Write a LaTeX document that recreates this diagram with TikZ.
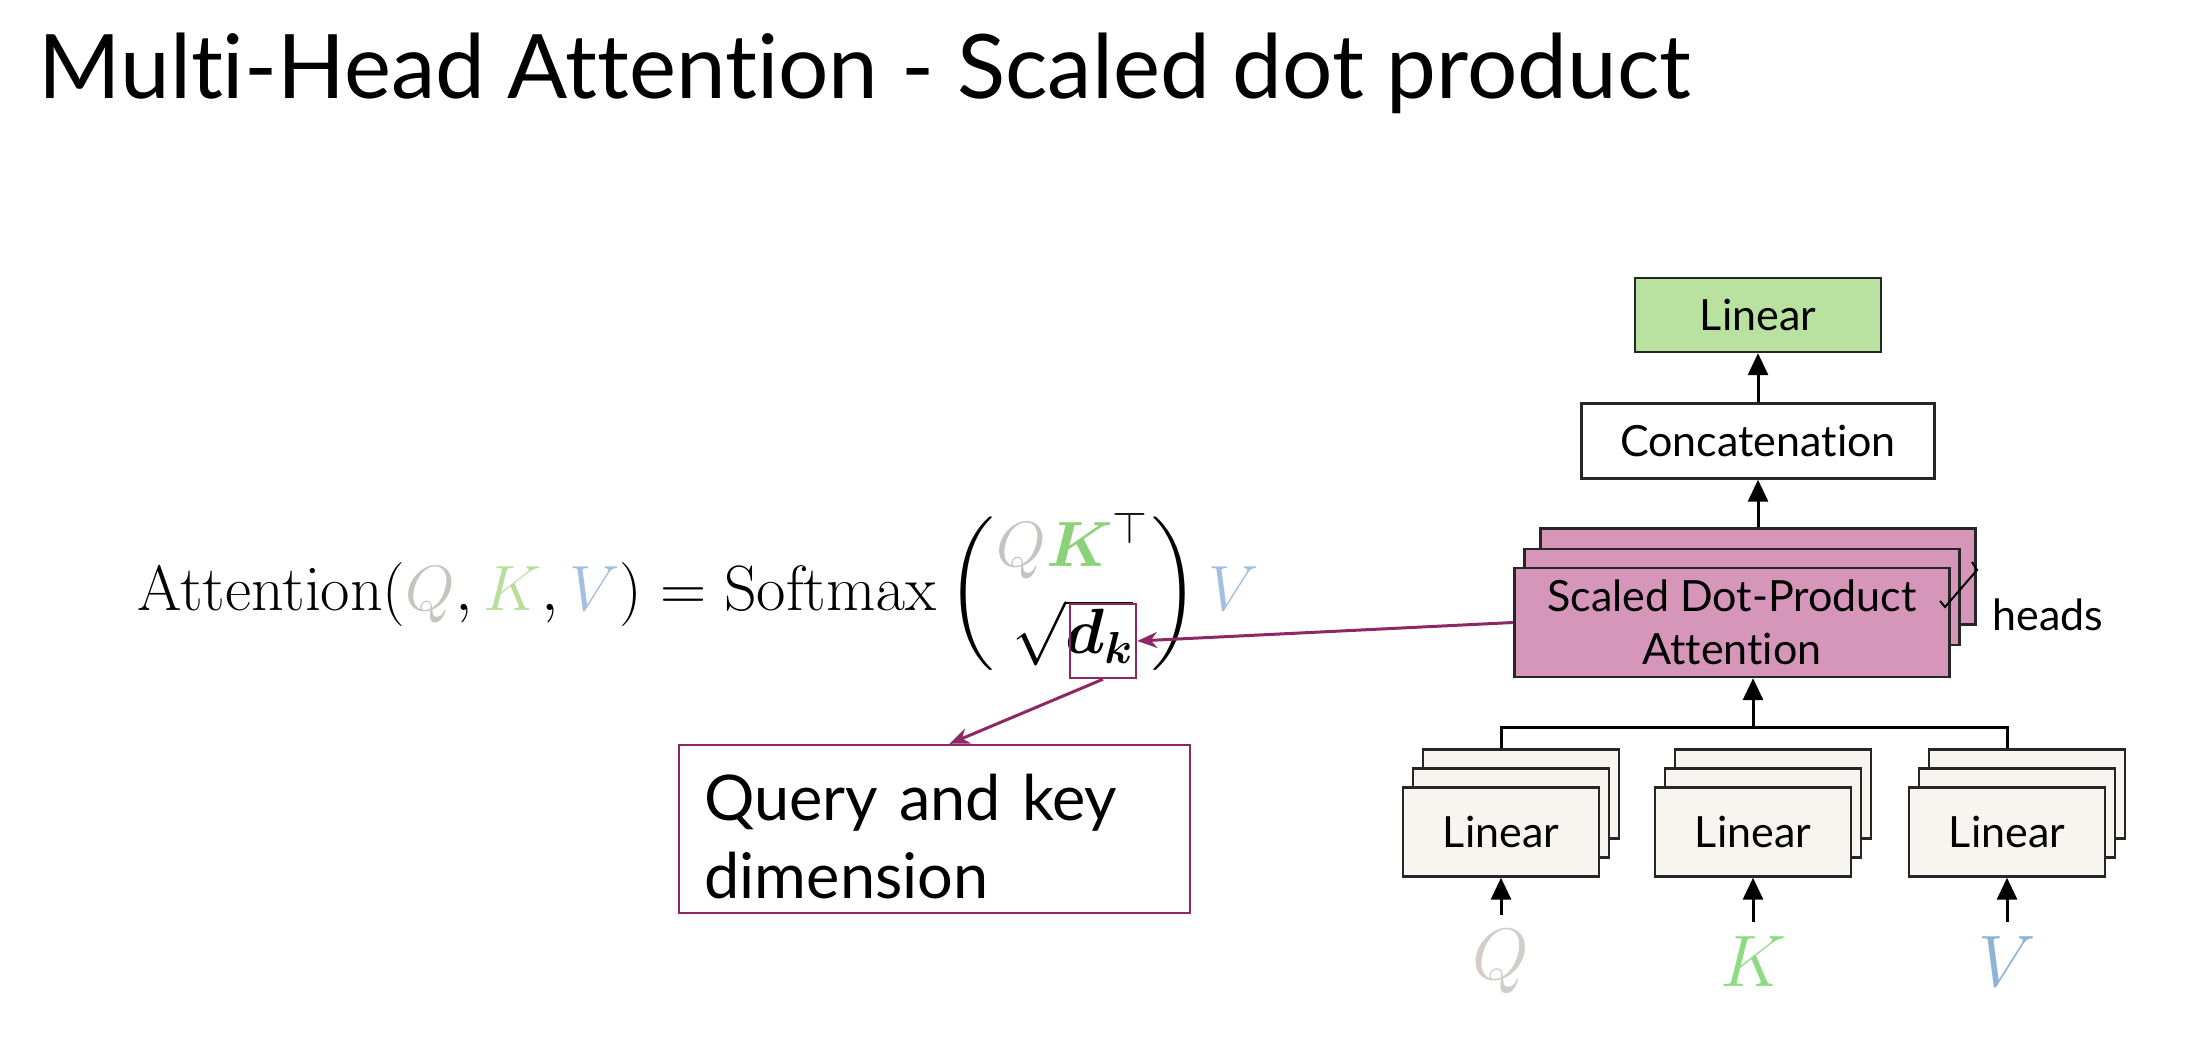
\RequirePackage{fix-cm}
\documentclass[tikz,border=0pt]{standalone}
\usepackage{amsmath}
\usepackage{amssymb}
\usepackage{xcolor}
\usepackage[no-math]{fontspec}
\newfontfamily\latofont{Lato}[Ligatures=NoCommon]
\usepackage{tikz}
\usetikzlibrary{arrows.meta,calc}

\begin{document}
\begin{tikzpicture}[x=0.5pt,y=-0.5pt,
    box/.style={draw=black!85,line width=1.2pt,inner sep=0pt,align=center,
      font=\latofont\fontsize{21.5}{26.5}\selectfont},
    linbox/.style={box,fill=myoff,minimum width=98pt,minimum height=44.5pt},
    headbox/.style={box,fill=mypink,minimum width=217.5pt,minimum height=48pt},
    up/.style={-{Triangle[length=11pt,width=10pt]},line width=1.5pt},
    note/.style={-{Stealth[length=10pt,width=8pt]},draw=mypurple,line width=1.5pt}]
    % 颜色列表
    \definecolor{myqgray}{RGB}{200,195,190}
    \definecolor{mykgreen}{RGB}{185,222,155}
    \definecolor{mykdark}{RGB}{140,210,120}
    \definecolor{myvblue}{RGB}{165,190,225}
    \definecolor{myqlab}{RGB}{210,205,200}
    \definecolor{myklab}{RGB}{140,220,130}
    \definecolor{myvlab}{RGB}{140,180,215}
    \definecolor{mygreen}{RGB}{185,226,160}
    \definecolor{mypink}{RGB}{214,150,186}
    \definecolor{myoff}{RGB}{248,245,241}
    \definecolor{mypurple}{RGB}{140,40,100}
    \useasboundingbox (0,0) rectangle (2198,1058);

    % 标题
    \node[anchor=base west,inner sep=0pt,font=\latofont\fontsize{44.5}{53}\selectfont] (title) at (38,99)
      {Multi-Head Attention - Scaled dot product};

    % 公式
    \node[anchor=base west,inner sep=0pt,font=\fontsize{32}{39}\selectfont] (eq) at (137,610)
      {$\displaystyle \mathrm{Attention}(\textcolor{myqgray}{Q}, \textcolor{mykgreen}{K}, \textcolor{myvblue}{V})
        = \mathrm{Softmax}\left(\genfrac{}{}{0pt}{}{\textcolor{myqgray}{Q}\textcolor{mykdark}{\boldsymbol{K}}^{\top}}{\sqrt{\boldsymbol{d_k}}}\right)\textcolor{myvblue}{V}$};
    \node[draw=mypurple,line width=1.2pt,minimum width=33pt,minimum height=37pt,inner sep=0pt] (dk) at (1103,641) {};
    \node[draw=mypurple,line width=1.2pt,minimum width=255.5pt,minimum height=84pt,text width=230pt,
      align=left,inner sep=0pt,font=\latofont\fontsize{31.5}{39}\selectfont] (qbox) at (934.5,829)
      {\rule{0pt}{31pt}Query and key\\dimension};

    % 右侧结构
    \node[box,fill=mygreen,minimum width=123pt,minimum height=37pt] (lin) at (1758,315) {Linear};
    \node[box,fill=white,minimum width=176.5pt,minimum height=37.5pt] (concat) at (1758,441) {Concatenation};
    \node[headbox] (sdpa3) at (1758,576.5) {};
    \node[headbox] (sdpa2) at (1742,597) {};
    \node[headbox,minimum height=54.5pt] (sdpa) at (1732,622.5) {Scaled Dot-Product\\Attention};
    \draw[line width=1pt] (1940,601) -- (1945,607) -- (1977,570) -- (1972,562);
    \node[anchor=base west,inner sep=0pt,font=\latofont\fontsize{21.5}{26}\selectfont] (heads) at (1992,630) {heads};

    % 三组 Linear
    \foreach \n/\l/\x/\c in {q/Q/1501/myqlab,k/K/1753/myklab,v/V/2007/myvlab}{
      \node[linbox] (\n3) at (\x+20,794) {};
      \node[linbox] (\n2) at (\x+10,813) {};
      \node[linbox] (\n1) at (\x,832) {Linear};
      \node[inner sep=0pt,text=\c,font=\fontsize{36.5}{44}\selectfont] (\n-in) at (\x,962) {$\l$};
      \draw[up,shorten <=7.5pt] (\n-in.north) -- (\n1.south);
    }

    \coordinate (bus) at (1753,727);
    \draw[line width=1.5pt] (q1 |- q3.north) -- (q1 |- bus) -- (v1 |- bus) -- (v1 |- v3.north);
    \draw[up] (bus) -- (bus |- sdpa.south);
    \draw[up] (sdpa3.north) -- (concat.south);
    \draw[up] (concat.north) -- (lin.south);

    % 标注箭头
    \draw[note] (sdpa.west) -- (dk.east);
    \draw[note] (dk.south) -- ($(qbox.north)+(15,0)$);
\end{tikzpicture}
\end{document}
